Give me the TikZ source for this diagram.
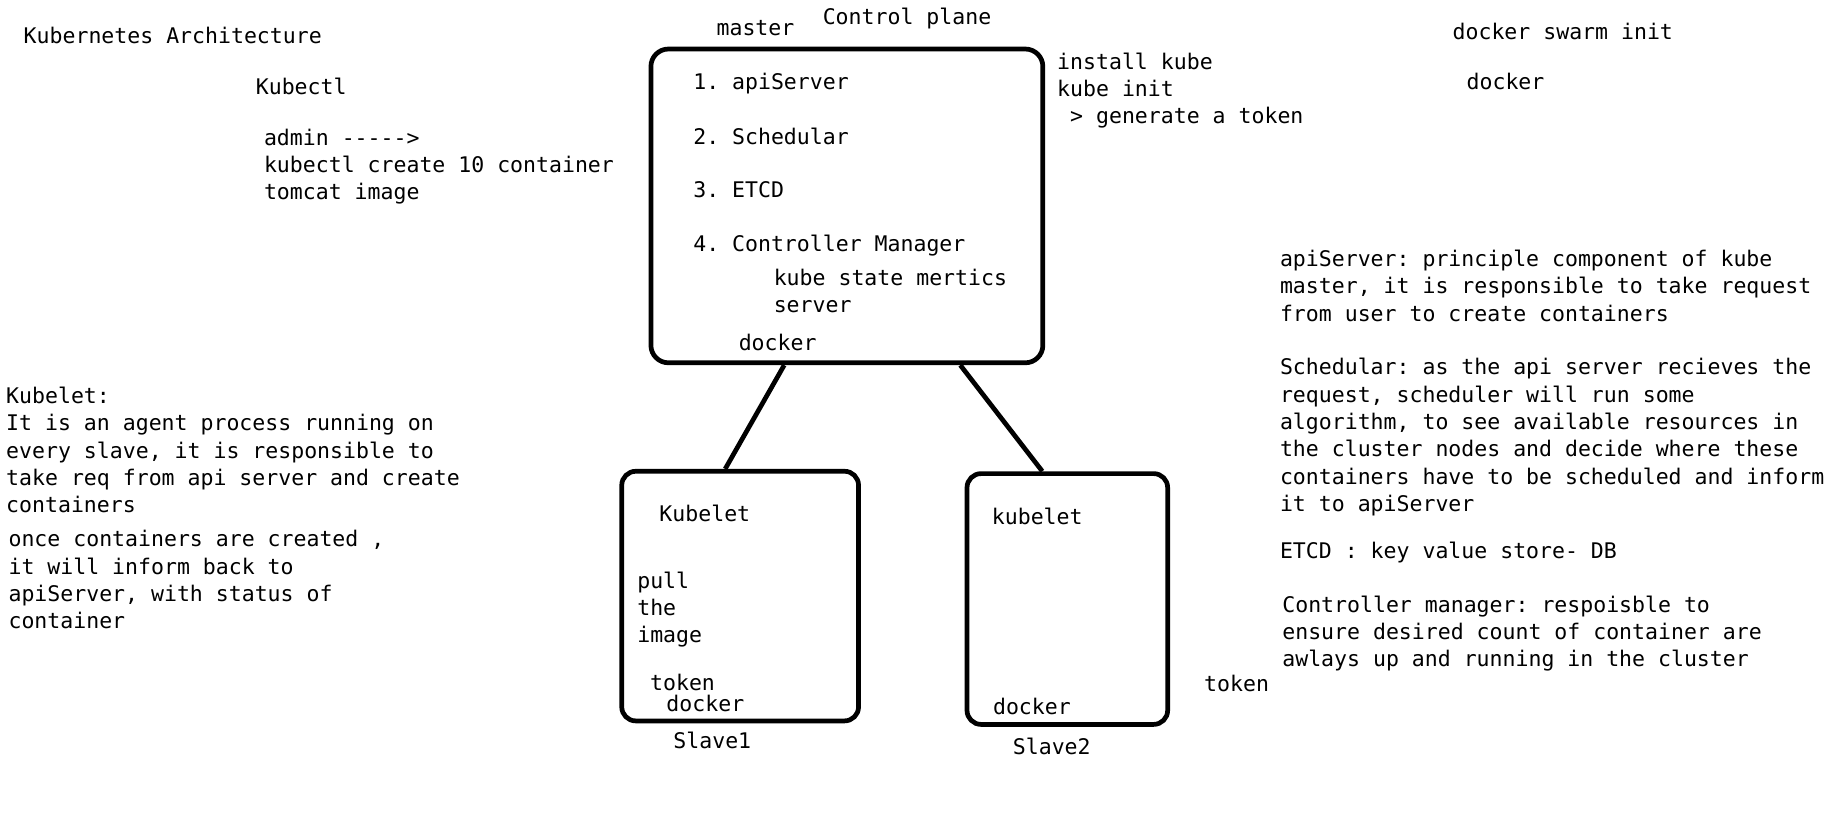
\documentclass[tikz,border=0pt]{standalone}
\usepackage{fontspec}
\setmonofont{DejaVu Sans Mono}
\usetikzlibrary{calc}
\tikzset{
  txt/.style={anchor=north west, inner sep=0pt, align=left,
    font=\ttfamily\fontsize{10.5}{13.3}\selectfont, execute at begin node=\strut},
  box/.style={draw, line width=2.3pt, rounded corners=0.3cm, anchor=north west, inner sep=0pt},
  link/.style={line width=2.3pt}
}
\begin{document}
\begin{tikzpicture}
  \useasboundingbox (0,0) rectangle (31.36,-14.08);

  % left notes
  \node[txt] at (0.40,-0.42) (title) {Kubernetes Architecture};
  \node[txt] at (4.38,-1.28) (kubectl) {Kubectl};
  \node[txt] at (4.52,-2.20) (admin) {admin -{}-{}-{}-{}->\\kubectl create 10 container\\tomcat image};
  \node[txt] at (0.10,-6.63) (kubeletnote) {Kubelet:\\It is an agent process running on\\every slave, it is responsible to\\take req from api server and create\\containers};
  \node[txt] at (0.14,-9.09) (oncenote) {once containers are created ,\\it will inform back to\\apiServer, with status of\\container};

  % master
  \node[box, minimum width=6.72cm, minimum height=5.38cm] at (11.12,-0.80) (master) {};
  \node[txt] at (12.28,-0.28) (mlabel) {master};
  \node[txt] at (14.10,-0.08) (cplane) {Control plane};
  \node[txt] at (11.88,-1.20) (api) {1. apiServer};
  \node[txt] at (11.88,-2.14) (sched) {2. Schedular};
  \node[txt] at (11.88,-3.06) (etcd) {3. ETCD};
  \node[txt] at (11.88,-3.98) (ctrl) {4. Controller Manager};
  \node[txt] at (13.26,-4.60) (ksm) {kube state mertics\\server};
  \node[txt] at (12.66,-5.68) (mdocker) {docker};
  \node[txt] at (18.12,-0.90) (install) {install kube\\kube init\\\ > generate a token};
  \node[txt] at (24.90,-0.34) (swarm) {docker swarm init};
  \node[txt] at (25.14,-1.20) (sdocker) {docker};

  % right notes
  \node[txt] at (21.94,-4.28) (apinote) {apiServer: principle component of kube\\master, it is responsible to take request\\from user to create containers};
  \node[txt] at (21.94,-6.14) (schednote) {Schedular: as the api server recieves the\\request, scheduler will run some\\algorithm, to see available resources in\\the cluster nodes and decide where these\\containers have to be scheduled and inform\\it to apiServer};
  \node[txt] at (21.94,-9.24) (etcdnote) {ETCD : key value store- DB};
  \node[txt] at (21.98,-10.21) (ctrlnote) {Controller manager: respoisble to\\ensure desired count of container are\\awlays up and running in the cluster};

  % slaves
  \node[box, rounded corners=0.24cm, minimum width=4.06cm, minimum height=4.28cm] at (10.62,-8.04) (slave1) {};
  \node[txt] at (11.30,-8.60) (kubelet1) {Kubelet};
  \node[txt] at (10.92,-9.80) (pull) {pull\\the\\image};
  \node[txt] at (11.14,-11.50) (token1) {token};
  \node[txt] at (11.42,-11.86) (docker1) {docker};
  \node[txt] at (11.54,-12.50) (s1label) {Slave1};

  \node[box, rounded corners=0.24cm, minimum width=3.44cm, minimum height=4.30cm] at (16.54,-8.08) (slave2) {};
  \node[txt] at (17.00,-8.66) (kubelet2) {kubelet};
  \node[txt] at (17.02,-11.92) (docker2) {docker};
  \node[txt] at (17.36,-12.60) (s2label) {Slave2};
  \node[txt] at (20.64,-11.52) (token2) {token};

  \draw[link] ($(master.south west)!0.342!(master.south east)$) -- ($(slave1.north west)!0.438!(slave1.north east)$);
  \draw[link] ($(master.south west)!0.786!(master.south east)$) -- ($(slave2.north west)!0.378!(slave2.north east)$);
\end{tikzpicture}
\end{document}
